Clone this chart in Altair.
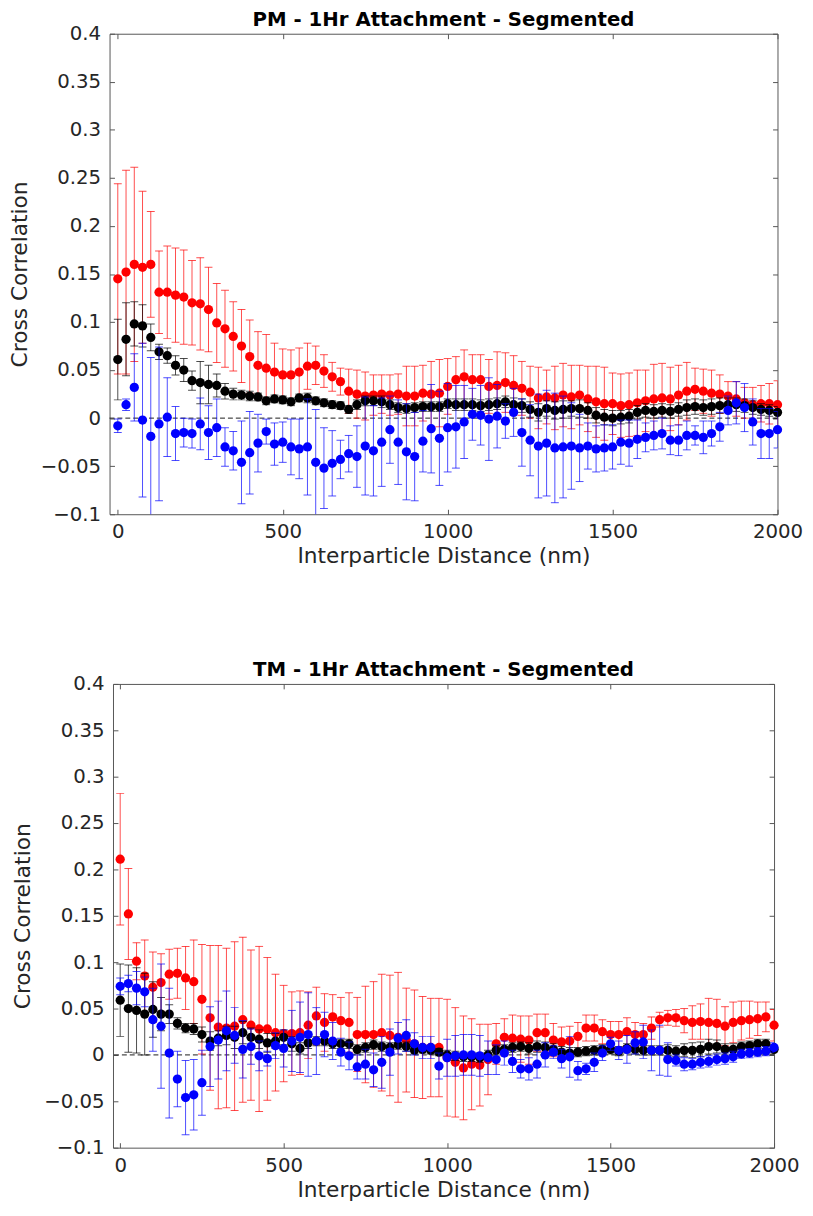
import altair as alt
import pandas as pd

# Interparticle distance bins (nm)
distance = list(range(0, 2001, 25))

# ---- PM panel ----
pm_red = [0.145, 0.152, 0.160, 0.157, 0.160, 0.131, 0.131, 0.128, 0.126, 0.120,
          0.119, 0.113, 0.099, 0.093, 0.085, 0.075, 0.064, 0.055, 0.052, 0.048,
          0.045, 0.045, 0.048, 0.054, 0.055, 0.049, 0.043, 0.038, 0.028, 0.025,
          0.023, 0.024, 0.025, 0.024, 0.025, 0.023, 0.023, 0.026, 0.025, 0.026,
          0.033, 0.040, 0.043, 0.040, 0.040, 0.033, 0.034, 0.037, 0.034, 0.031,
          0.027, 0.021, 0.022, 0.021, 0.024, 0.022, 0.024, 0.020, 0.017, 0.015,
          0.015, 0.013, 0.014, 0.016, 0.018, 0.020, 0.021, 0.020, 0.024, 0.028,
          0.030, 0.028, 0.026, 0.025, 0.023, 0.020, 0.016, 0.014, 0.015, 0.015,
          0.014]
pm_red_err = [0.099, 0.106, 0.101, 0.079, 0.055, 0.043, 0.048, 0.049, 0.049, 0.044,
              0.048, 0.044, 0.041, 0.040, 0.036, 0.038, 0.038, 0.035, 0.035, 0.030,
              0.027, 0.026, 0.025, 0.024, 0.020, 0.017, 0.015, 0.014, 0.023, 0.025,
              0.025, 0.021, 0.020, 0.021, 0.021, 0.031, 0.031, 0.029, 0.034, 0.035,
              0.029, 0.024, 0.028, 0.026, 0.026, 0.028, 0.035, 0.031, 0.031, 0.028,
              0.027, 0.032, 0.028, 0.033, 0.033, 0.033, 0.031, 0.034, 0.037, 0.038,
              0.032, 0.033, 0.033, 0.034, 0.032, 0.036, 0.036, 0.033, 0.031, 0.030,
              0.022, 0.023, 0.024, 0.020, 0.015, 0.018, 0.016, 0.018, 0.019, 0.021,
              0.025]
pm_black = [0.061, 0.082, 0.098, 0.096, 0.084, 0.069, 0.065, 0.055, 0.050, 0.039,
            0.037, 0.035, 0.034, 0.028, 0.025, 0.024, 0.023, 0.022, 0.018, 0.020,
            0.019, 0.017, 0.021, 0.021, 0.018, 0.016, 0.014, 0.013, 0.009, 0.014,
            0.018, 0.018, 0.017, 0.014, 0.011, 0.010, 0.011, 0.012, 0.012, 0.012,
            0.015, 0.014, 0.014, 0.014, 0.013, 0.014, 0.015, 0.017, 0.014, 0.013,
            0.009, 0.006, 0.010, 0.008, 0.009, 0.010, 0.010, 0.008, 0.003, 0.001,
            0.000, 0.001, 0.002, 0.006, 0.008, 0.007, 0.008, 0.007, 0.009, 0.011,
            0.012, 0.011, 0.012, 0.013, 0.014, 0.014, 0.013, 0.011, 0.009, 0.008,
            0.006]
pm_black_err = [0.042, 0.038, 0.023, 0.022, 0.014, 0.008, 0.008, 0.010, 0.012, 0.010,
                0.022, 0.020, 0.012, 0.008, 0.006, 0.005, 0.005, 0.004, 0.004, 0.004,
                0.004, 0.004, 0.004, 0.005, 0.004, 0.004, 0.004, 0.004, 0.004, 0.005,
                0.005, 0.005, 0.006, 0.005, 0.005, 0.005, 0.005, 0.005, 0.005, 0.005,
                0.005, 0.006, 0.006, 0.006, 0.006, 0.006, 0.006, 0.006, 0.007, 0.007,
                0.008, 0.009, 0.008, 0.009, 0.009, 0.008, 0.009, 0.008, 0.008, 0.008,
                0.008, 0.007, 0.007, 0.007, 0.007, 0.007, 0.007, 0.007, 0.007, 0.008,
                0.008, 0.008, 0.008, 0.008, 0.007, 0.007, 0.007, 0.007, 0.006, 0.006,
                0.006]
pm_blue = [-0.008, 0.014, 0.032, -0.002, -0.019, -0.006, 0.001, -0.016, -0.015, -0.016,
           -0.006, -0.015, -0.010, -0.030, -0.034, -0.046, -0.036, -0.026, -0.014, -0.027,
           -0.025, -0.030, -0.032, -0.030, -0.046, -0.052, -0.047, -0.043, -0.037, -0.040,
           -0.029, -0.034, -0.025, -0.012, -0.025, -0.035, -0.040, -0.024, -0.011, -0.021,
           -0.010, -0.009, -0.004, 0.004, 0.003, -0.001, 0.002, -0.003, 0.006, -0.015,
           -0.023, -0.029, -0.026, -0.031, -0.030, -0.029, -0.031, -0.029, -0.032, -0.031,
           -0.030, -0.025, -0.026, -0.022, -0.020, -0.018, -0.016, -0.023, -0.023, -0.018,
           -0.018, -0.020, -0.016, -0.009, 0.008, 0.016, 0.011, -0.004, -0.016, -0.016,
           -0.012]
pm_blue_err = [0.007, 0.006, 0.035, 0.080, 0.082, 0.080, 0.041, 0.028, 0.015, 0.015,
               0.027, 0.028, 0.030, 0.020, 0.020, 0.043, 0.043, 0.030, 0.013, 0.022,
               0.021, 0.029, 0.031, 0.050, 0.055, 0.042, 0.034, 0.020, 0.019, 0.032,
               0.051, 0.047, 0.046, 0.035, 0.044, 0.050, 0.046, 0.032, 0.046, 0.049,
               0.046, 0.043, 0.038, 0.027, 0.031, 0.043, 0.033, 0.018, 0.025, 0.035,
               0.037, 0.054, 0.055, 0.057, 0.053, 0.045, 0.035, 0.024, 0.024, 0.024,
               0.023, 0.023, 0.024, 0.020, 0.015, 0.015, 0.016, 0.015, 0.016, 0.015,
               0.010, 0.017, 0.013, 0.015, 0.015, 0.022, 0.025, 0.024, 0.026, 0.026,
               0.019]

# ---- TM panel ----
tm_red = [0.211, 0.152, 0.101, 0.085, 0.073, 0.078, 0.087, 0.088, 0.083, 0.079,
          0.060, 0.040, 0.030, 0.029, 0.031, 0.038, 0.032, 0.028, 0.028, 0.024,
          0.023, 0.023, 0.024, 0.032, 0.042, 0.035, 0.041, 0.037, 0.035, 0.022,
          0.022, 0.022, 0.024, 0.021, 0.019, 0.016, 0.012, 0.008, 0.008, 0.008,
          -0.003, -0.008, -0.014, -0.010, -0.011, -0.005, 0.012, 0.019, 0.018, 0.017,
          0.016, 0.024, 0.024, 0.016, 0.014, 0.015, 0.020, 0.029, 0.029, 0.025,
          0.022, 0.022, 0.025, 0.022, 0.022, 0.029, 0.038, 0.040, 0.040, 0.037,
          0.035, 0.036, 0.035, 0.034, 0.031, 0.035, 0.037, 0.038, 0.039, 0.041,
          0.032]
tm_red_err = [0.071, 0.049, 0.020, 0.039, 0.038, 0.031, 0.027, 0.027, 0.034, 0.045,
              0.059, 0.078, 0.088, 0.086, 0.091, 0.089, 0.081, 0.089, 0.077, 0.063,
              0.052, 0.045, 0.045, 0.036, 0.031, 0.031, 0.024, 0.025, 0.032, 0.040,
              0.052, 0.057, 0.063, 0.065, 0.070, 0.056, 0.058, 0.055, 0.053, 0.053,
              0.063, 0.059, 0.056, 0.049, 0.044, 0.038, 0.022, 0.020, 0.025, 0.025,
              0.026, 0.020, 0.020, 0.018, 0.016, 0.016, 0.015, 0.014, 0.014, 0.013,
              0.014, 0.014, 0.015, 0.013, 0.012, 0.012, 0.008, 0.008, 0.009, 0.013,
              0.018, 0.019, 0.026, 0.026, 0.021, 0.022, 0.021, 0.020, 0.018, 0.016,
              0.017]
tm_black = [0.059, 0.050, 0.048, 0.044, 0.049, 0.044, 0.044, 0.034, 0.029, 0.028,
            0.022, 0.015, 0.018, 0.021, 0.019, 0.024, 0.019, 0.017, 0.013, 0.015,
            0.019, 0.012, 0.007, 0.013, 0.015, 0.015, 0.012, 0.012, 0.012, 0.006,
            0.008, 0.011, 0.009, 0.008, 0.011, 0.009, 0.005, 0.006, 0.005, 0.003,
            0.000, -0.001, -0.002, -0.002, -0.003, 0.000, 0.005, 0.006, 0.008, 0.009,
            0.007, 0.009, 0.008, 0.006, 0.003, 0.002, 0.003, 0.004, 0.005, 0.006,
            0.006, 0.004, 0.007, 0.006, 0.005, 0.005, 0.005, 0.005, 0.004, 0.005,
            0.005, 0.006, 0.009, 0.009, 0.006, 0.006, 0.009, 0.010, 0.012, 0.012,
            0.006]
tm_black_err = [0.039, 0.047, 0.046, 0.044, 0.030, 0.018, 0.010, 0.006, 0.005, 0.006,
                0.008, 0.010, 0.008, 0.010, 0.012, 0.012, 0.010, 0.010, 0.010, 0.008,
                0.008, 0.008, 0.006, 0.006, 0.005, 0.005, 0.005, 0.005, 0.005, 0.005,
                0.005, 0.005, 0.005, 0.005, 0.005, 0.005, 0.004, 0.004, 0.004, 0.004,
                0.005, 0.005, 0.005, 0.005, 0.005, 0.005, 0.005, 0.005, 0.005, 0.005,
                0.006, 0.006, 0.006, 0.006, 0.006, 0.006, 0.005, 0.005, 0.005, 0.005,
                0.005, 0.005, 0.005, 0.005, 0.005, 0.005, 0.005, 0.006, 0.006, 0.007,
                0.008, 0.008, 0.008, 0.007, 0.006, 0.006, 0.005, 0.005, 0.005, 0.005,
                0.005]
tm_blue = [0.074, 0.077, 0.072, 0.068, 0.038, 0.031, 0.002, -0.026, -0.046, -0.043,
           -0.030, 0.009, 0.016, 0.026, 0.021, 0.006, 0.009, -0.001, -0.004, 0.010,
           0.007, 0.015, 0.019, 0.022, 0.015, 0.022, 0.015, 0.003, -0.001, -0.013,
           -0.010, -0.016, -0.008, 0.003, 0.018, 0.021, 0.012, 0.008, 0.008, -0.012,
           -0.003, -0.001, 0.000, 0.000, -0.001, -0.003, -0.005, 0.002, -0.007, -0.015,
           -0.015, -0.010, 0.000, 0.003, -0.004, -0.002, -0.017, -0.015, -0.008, 0.002,
           0.012, 0.005, 0.006, 0.013, 0.014, 0.005, 0.005, -0.005, -0.006, -0.010,
           -0.010, -0.008, -0.007, -0.005, -0.004, -0.002, 0.001, 0.002, 0.003, 0.004,
           0.008]
tm_blue_err = [0.009, 0.009, 0.018, 0.016, 0.034, 0.067, 0.070, 0.030, 0.040, 0.038,
               0.035, 0.043, 0.042, 0.043, 0.030, 0.031, 0.019, 0.016, 0.008, 0.014,
               0.020, 0.033, 0.038, 0.045, 0.036, 0.024, 0.020, 0.015, 0.015, 0.013,
               0.016, 0.018, 0.028, 0.025, 0.017, 0.017, 0.012, 0.012, 0.012, 0.014,
               0.020, 0.022, 0.022, 0.022, 0.022, 0.018, 0.016, 0.013, 0.012, 0.010,
               0.012, 0.015, 0.013, 0.007, 0.010, 0.022, 0.010, 0.006, 0.010, 0.008,
               0.007, 0.010, 0.015, 0.012, 0.018, 0.022, 0.027, 0.018, 0.006, 0.007,
               0.006, 0.006, 0.006, 0.006, 0.006, 0.006, 0.005, 0.005, 0.005, 0.005,
               0.005]

x_ticks = [0, 500, 1000, 1500, 2000]
y_ticks = [-0.1, -0.05, 0, 0.05, 0.1, 0.15, 0.2, 0.25, 0.3, 0.35, 0.4]

FONT = "DejaVu Sans"
TEXT_COLOR = "#262626"
FRAME_COLOR = "#555555"


def frame(values, errors):
    return pd.DataFrame({
        "dist": distance,
        "cc": values,
        "lo": [v - e for v, e in zip(values, errors)],
        "hi": [v + e for v, e in zip(values, errors)],
    })


def axis_style(**kw):
    # ticks point inward: the axis is pulled 5px inside the frame
    base = dict(
        grid=False, domain=False, offset=-5, tickSize=5, tickColor=FRAME_COLOR,
        tickWidth=1, labelFont=FONT, labelFontSize=20, labelColor=TEXT_COLOR,
        labelFlush=False, titleFont=FONT, titleFontSize=22,
        titleFontWeight="normal", titleColor=TEXT_COLOR, minExtent=0,
    )
    base.update(kw)
    return alt.Axis(**base)


def panel(title, series, width, height, x_min):
    xs = alt.Scale(domain=[x_min, 2000], nice=False, zero=False, padding=0)
    ys = alt.Scale(domain=[-0.1, 0.4], nice=False, zero=False, padding=0)

    ax_bottom = axis_style(orient="bottom", values=x_ticks, format="d",
                           labelPadding=8, titlePadding=4,
                           title="Interparticle Distance (nm)")
    ax_left = axis_style(orient="left", values=y_ticks, format="~g",
                         labelPadding=9, titlePadding=9,
                         title="Cross Correlation")
    ax_top = axis_style(orient="top", values=x_ticks, labels=False, title=None,
                        maxExtent=0)
    ax_right = axis_style(orient="right", values=y_ticks, labels=False, title=None,
                          maxExtent=0)

    # dashed reference line at zero correlation
    zero = alt.Chart(pd.DataFrame({"zero": [0.0]})).mark_rule(
        color="#1a1a1a", strokeDash=[5, 3], strokeWidth=1
    ).encode(y=alt.Y("zero:Q", scale=ys, axis=None))

    layers = [zero]
    for i, (df, color) in enumerate(series):
        base = alt.Chart(df)
        if i == 0:
            xa_bar, ya_bar = ax_bottom, ax_left
            xa_cap, ya_cap = ax_top, ax_right
        else:
            xa_bar = ya_bar = xa_cap = ya_cap = None

        bars = base.mark_rule(color=color, strokeWidth=1, opacity=0.7, clip=True).encode(
            x=alt.X("dist:Q", scale=xs, axis=xa_bar),
            y=alt.Y("lo:Q", scale=ys, axis=ya_bar),
            y2="hi:Q",
        )
        cap_lo = base.mark_tick(color=color, orient="horizontal", size=8,
                                thickness=1, opacity=0.7, clip=True).encode(
            x=alt.X("dist:Q", scale=xs, axis=xa_cap),
            y=alt.Y("lo:Q", scale=ys, axis=ya_cap),
        )
        cap_hi = base.mark_tick(color=color, orient="horizontal", size=8,
                                thickness=1, opacity=0.7, clip=True).encode(
            x=alt.X("dist:Q", scale=xs, axis=None),
            y=alt.Y("hi:Q", scale=ys, axis=None),
        )
        dots = base.mark_circle(color=color, size=88, opacity=1).encode(
            x=alt.X("dist:Q", scale=xs, axis=None),
            y=alt.Y("cc:Q", scale=ys, axis=None),
        )
        layers += [bars, cap_lo, cap_hi, dots]

    return alt.layer(*layers).resolve_axis(
        x="independent", y="independent"
    ).properties(
        width=width, height=height,
        title=alt.TitleParams(title, font=FONT, fontSize=20, fontWeight="bold",
                              color="#000000", offset=-6, anchor="middle"),
    )


pm = panel(
    "PM - 1Hr Attachment - Segmented",
    [(frame(pm_red, pm_red_err), "#ff0000"),
     (frame(pm_black, pm_black_err), "#000000"),
     (frame(pm_blue, pm_blue_err), "#0000ff")],
    677, 487, -25,
)
tm = panel(
    "TM - 1Hr Attachment - Segmented",
    [(frame(tm_red, tm_red_err), "#ff0000"),
     (frame(tm_black, tm_black_err), "#000000"),
     (frame(tm_blue, tm_blue_err), "#0000ff")],
    670, 470, -22,
)

chart = alt.vconcat(pm, tm, spacing=93, center=True).properties(
    padding={"left": 8, "top": 1, "right": 10, "bottom": 2}
).configure_view(stroke=FRAME_COLOR, strokeWidth=1)

chart.save("out.html", embed_options={"renderer": "svg", "actions": False})
